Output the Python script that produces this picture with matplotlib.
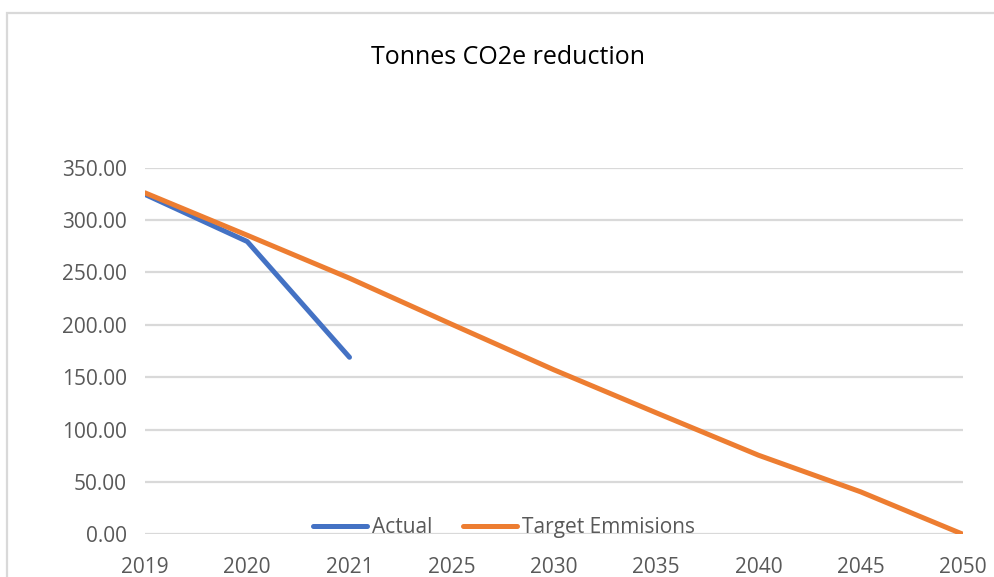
import matplotlib
matplotlib.use("Agg")
import matplotlib.pyplot as plt
import matplotlib.patches as mpatches

# ─── Data ─────────────────────────────────────────────────────────────────────
years = ["2019", "2020", "2021", "2025", "2030", "2035", "2040", "2045", "2050"]
actual = [324.5, 279.5, 169.0]
target = [326.0, 285.5, 244.5, 200.5, 157.0, 116.0, 75.5, 40.5, 0.0]
y_ticks = [0, 50, 100, 150, 200, 250, 300, 350]

# ─── Colours (Excel default theme) ────────────────────────────────────────────
BLUE = "#4472C4"
ORANGE = "#ED7D31"
GRID = "#D9D9D9"
TEXT = "#595959"

plt.rcParams["font.family"] = ["Open Sans", "DejaVu Sans"]

fig = plt.figure(figsize=(9.94, 5.77), dpi=100)
ax = fig.add_axes([145 / 994, 1 - 534.3 / 577, (963 - 145) / 994, (534.3 - 167.7) / 577])

x = list(range(len(years)))
ax.plot(x[:len(actual)], actual, color=BLUE, linewidth=3.6,
        solid_capstyle="round", solid_joinstyle="round", label="Actual", zorder=3)
ax.plot(x, target, color=ORANGE, linewidth=3.6,
        solid_capstyle="round", solid_joinstyle="round", label="Target Emmisions", zorder=4)

ax.set_xlim(0, len(years) - 1)
ax.set_ylim(0, 350)
ax.set_xticks(x)
ax.set_xticklabels(years)
ax.set_yticks(y_ticks)
ax.set_yticklabels([f"{v:.2f}" for v in y_ticks])
ax.tick_params(length=0, labelsize=15, colors=TEXT)
ax.tick_params(axis="x", pad=16)
ax.tick_params(axis="y", pad=13)
ax.grid(True, axis="y", color=GRID, linewidth=1.6)
ax.set_axisbelow(True)
for spine in ax.spines.values():
    spine.set_visible(False)

fig.text(0.511, 0.9, "Tonnes CO2e reduction", ha="center", va="center",
         fontsize=18, color="#000000")

fig.legend(loc="center", bbox_to_anchor=(0.507, 0.086), ncol=2, frameon=False,
           fontsize=15, handlelength=2.6, handletextpad=0.2, columnspacing=1.5,
           labelcolor=TEXT)

# chart area border
fig.patches.append(mpatches.Rectangle((7 / 994, -0.1), 1.2, 1.1 - 13 / 577,
                                      transform=fig.transFigure, fill=False,
                                      edgecolor=GRID, linewidth=1.6, zorder=0))

fig.savefig("out.png", dpi=100, facecolor="white")
